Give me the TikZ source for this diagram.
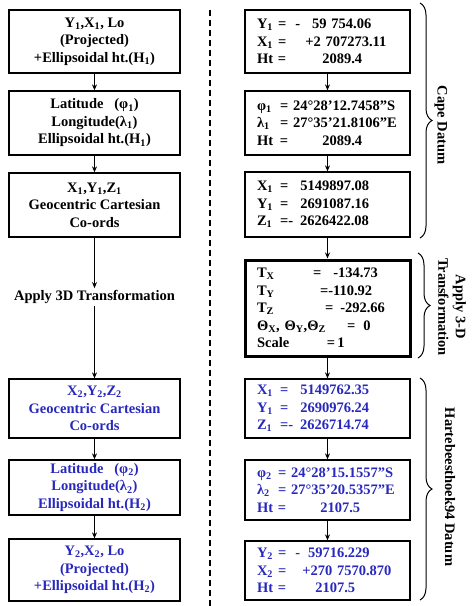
\documentclass[tikz,border=0pt]{standalone}
\usepackage{fontspec}
\setmainfont{Liberation Serif}
\usetikzlibrary{positioning,arrows.meta,decorations.pathreplacing}
\definecolor{hartblue}{RGB}{40,40,190}
\newcommand{\sbs}[1]{\textsubscript{#1}}
\newcommand{\lbl}[2][21pt]{\makebox[#1][l]{#2}}
\newcommand{\gap}[1]{\hspace*{#1pt}}

\begin{document}
\begin{tikzpicture}[x=1pt,y=-1pt,>={Stealth[length=6pt,width=5pt]},
  font=\fontsize{14.5}{17.5}\selectfont\bfseries,
  lbox/.style={draw,line width=1.3pt,minimum width=171pt,align=center,inner sep=0pt},
  rbox/.style={draw,line width=1.3pt,minimum width=165pt,text width=141pt,align=left,inner sep=0pt},
  hart/.style={text=hartblue},
  flow/.style={->,line width=1.2pt},
  grp/.style={decorate,line width=1pt,decoration={brace,amplitude=12pt}}]
  \useasboundingbox (0,0) rectangle (474,606);
  % left column: conversion steps
  \node[lbox,minimum height=63pt] (proj1) at (94.5,41.5)
    {Y\sbs{1},X\sbs{1}, Lo\\(Projected)\\+Ellipsoidal ht.(H\sbs{1})};
  \node[lbox,minimum height=64pt] (geod1) at (94.5,123)
    {Latitude\ \ \ (φ\sbs{1})\\Longitude(λ\sbs{1})\\Ellipsoidal ht.(H\sbs{1})};
  \node[lbox,minimum height=64pt] (cart1) at (94.5,205)
    {X\sbs{1},Y\sbs{1},Z\sbs{1}\\Geocentric Cartesian\\Co-ords};
  \node[inner sep=2pt] (apply) at (94.5,297) {Apply 3D Transformation};
  \node[lbox,hart,minimum height=59pt] (cart2) at (94.5,408.5)
    {X\sbs{2},Y\sbs{2},Z\sbs{2}\\Geocentric Cartesian\\Co-ords};
  \node[lbox,hart,minimum height=55pt] (geod2) at (94.5,487.5)
    {Latitude\ \ \ (φ\sbs{2})\\Longitude(λ\sbs{2})\\Ellipsoidal ht.(H\sbs{2})};
  \node[lbox,hart,minimum height=62pt] (proj2) at (94.5,570)
    {Y\sbs{2},X\sbs{2}, Lo\\(Projected)\\+Ellipsoidal ht.(H\sbs{2})};
  \draw[flow] (proj1) -- (geod1);
  \draw[flow] (geod1) -- (cart1);
  \draw[flow] (cart1) -- (apply);
  \draw[flow] (apply) -- (cart2);
  \draw[flow] (cart2) -- (geod2);
  \draw[flow] (geod2) -- (proj2);
  % separator
  \coordinate (septop) at (210,10);
  \coordinate (sepbot) at (210,606);
  \draw[line width=1.4pt,dash pattern=on 6pt off 4pt] (septop) -- (sepbot);
  % right column: values
  \node[rbox,minimum height=63pt] (vproj1) at (327.5,41.5)
    {\lbl{Y\sbs{1}}=\gap{9}-\gap{12}59 754.06\\
     \lbl{X\sbs{1}}=\gap{19}+2 707273.11\\
     \lbl{Ht}=\gap{36}2089.4};
  \node[rbox,minimum height=64pt] (vgeod1) at (327.5,123)
    {\lbl[23pt]{φ\sbs{1}}= 24°28’12.7458”S\\
     \lbl[23pt]{λ\sbs{1}}= 27°35’21.8106”E\\
     \lbl[23pt]{Ht}=\gap{34}2089.4};
  \node[rbox,minimum height=65pt] (vcart1) at (327.5,204.5)
    {\lbl[23pt]{X\sbs{1}}=\gap{12}5149897.08\\
     \lbl[23pt]{Y\sbs{1}}=\gap{12}2691087.16\\
     \lbl[23pt]{Z\sbs{1}}=-\gap{7}2626422.08};
  \node[rbox,line width=3pt,minimum height=96pt] (vpar) at (327.5,308)
    {\lbl[56pt]{T\sbs{X}}=\gap{12}-134.73\\
     \lbl[63pt]{T\sbs{Y}}=-110.92\\
     \lbl[68pt]{T\sbs{Z}}=\gap{7}-292.66\\
     \lbl[90pt]{Θ\sbs{X}, Θ\sbs{Y},Θ\sbs{Z}}=\gap{8}0\\
     \lbl[70pt]{Scale}=\gap{2}1};
  \node[rbox,hart,minimum height=59pt] (vcart2) at (327.5,408.5)
    {\lbl[23pt]{X\sbs{1}}=\gap{12}5149762.35\\
     \lbl[23pt]{Y\sbs{1}}=\gap{12}2690976.24\\
     \lbl[23pt]{Z\sbs{1}}=-\gap{7}2626714.74};
  \node[rbox,hart,minimum height=60pt] (vgeod2) at (327.5,490)
    {\lbl{φ\sbs{2}}= 24°28’15.1557”S\\
     \lbl{λ\sbs{2}}= 27°35’20.5357”E\\
     \lbl{Ht}=\gap{34}2107.5};
  \node[rbox,hart,minimum height=59pt] (vproj2) at (327.5,570.5)
    {\lbl{Y\sbs{2}}=\gap{9}-\gap{8}59716.229\\
     \lbl{X\sbs{2}}=\gap{16}+270 7570.870\\
     \lbl{Ht}=\gap{29}2107.5};
  \draw[flow] (vproj1) -- (vgeod1);
  \draw[flow] (vgeod1) -- (vcart1);
  \draw[flow] (vcart1) -- (vpar);
  \draw[flow] (vpar) -- (vcart2);
  \draw[flow] (vcart2) -- (vgeod2);
  \draw[flow] (vgeod2) -- (vproj2);
  % datum groups
  \coordinate (capetop) at (420,3);
  \coordinate (capebot) at (420,238);
  \coordinate (trftop) at (418,253);
  \coordinate (trfbot) at (418,358);
  \coordinate (harttop) at (420,378);
  \coordinate (hartbot) at (420,600);
  \draw[grp] (capetop) -- (capebot);
  \draw[grp] (trftop) -- (trfbot);
  \draw[grp] (harttop) -- (hartbot);
  \node[rotate=-90] (capelbl) at (441,125) {Cape Datum};
  \node[rotate=-90,align=center] (trflbl) at (452,307) {Apply 3-D\\Transformation};
  \node[rotate=-90] (hartlbl) at (450,487) {Hartebeesthoek94 Datum};
\end{tikzpicture}
\end{document}
